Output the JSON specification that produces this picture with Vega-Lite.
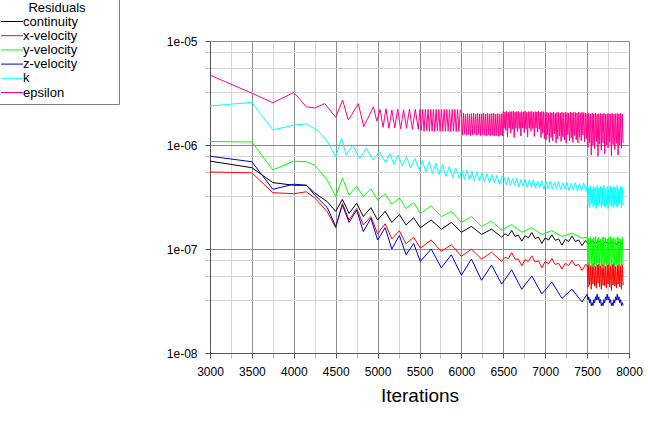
{
  "$schema": "https://vega.github.io/schema/vega-lite/v6.json",
  "width": 419,
  "height": 312,
  "autosize": {"type": "none"},
  "padding": {"left": 210, "top": 41, "right": 19, "bottom": 79},
  "background": "#ffffff",
  "config": {"view": {"stroke": null}},
  "data": {
    "values": [
      {"s": "continuity", "i": 3000, "v": 7.0e-7},
      {"s": "continuity", "i": 3500, "v": 6.05e-7},
      {"s": "continuity", "i": 3750, "v": 4.35e-7},
      {"s": "continuity", "i": 4000, "v": 4.1e-7},
      {"s": "continuity", "i": 4150, "v": 4.1e-7},
      {"s": "continuity", "i": 4250, "v": 3.45e-7},
      {"s": "continuity", "i": 4400, "v": 2.85e-7},
      {"s": "continuity", "i": 4500, "v": 2.3e-7},
      {"s": "continuity", "i": 4580, "v": 3.0e-7},
      {"s": "continuity", "i": 4660, "v": 2.2e-7},
      {"s": "continuity", "i": 4750, "v": 2.75e-7},
      {"s": "continuity", "i": 4830, "v": 2.05e-7},
      {"s": "continuity", "i": 4920, "v": 2.5e-7},
      {"s": "continuity", "i": 5000, "v": 1.9e-7},
      {"s": "continuity", "i": 5090, "v": 2.3e-7},
      {"s": "continuity", "i": 5170, "v": 1.8e-7},
      {"s": "continuity", "i": 5260, "v": 2.15e-7},
      {"s": "continuity", "i": 5340, "v": 1.7e-7},
      {"s": "continuity", "i": 5430, "v": 2.0e-7},
      {"s": "continuity", "i": 5510, "v": 1.6e-7},
      {"s": "continuity", "i": 5640, "v": 1.9e-7},
      {"s": "continuity", "i": 5760, "v": 1.55e-7},
      {"s": "continuity", "i": 5880, "v": 1.8e-7},
      {"s": "continuity", "i": 6000, "v": 1.45e-7},
      {"s": "continuity", "i": 6120, "v": 1.65e-7},
      {"s": "continuity", "i": 6240, "v": 1.38e-7},
      {"s": "continuity", "i": 6360, "v": 1.55e-7},
      {"s": "continuity", "i": 6480, "v": 1.3e-7},
      {"s": "continuity", "i": 6520, "v": 1.40e-7},
      {"s": "continuity", "i": 6560, "v": 1.34e-7},
      {"s": "continuity", "i": 6600, "v": 1.51e-7},
      {"s": "continuity", "i": 6640, "v": 1.32e-7},
      {"s": "continuity", "i": 6680, "v": 1.36e-7},
      {"s": "continuity", "i": 6720, "v": 1.19e-7},
      {"s": "continuity", "i": 6760, "v": 1.34e-7},
      {"s": "continuity", "i": 6800, "v": 1.28e-7},
      {"s": "continuity", "i": 6840, "v": 1.44e-7},
      {"s": "continuity", "i": 6880, "v": 1.26e-7},
      {"s": "continuity", "i": 6920, "v": 1.30e-7},
      {"s": "continuity", "i": 6960, "v": 1.13e-7},
      {"s": "continuity", "i": 7000, "v": 1.28e-7},
      {"s": "continuity", "i": 7040, "v": 1.22e-7},
      {"s": "continuity", "i": 7080, "v": 1.37e-7},
      {"s": "continuity", "i": 7120, "v": 1.21e-7},
      {"s": "continuity", "i": 7160, "v": 1.25e-7},
      {"s": "continuity", "i": 7200, "v": 1.09e-7},
      {"s": "continuity", "i": 7240, "v": 1.24e-7},
      {"s": "continuity", "i": 7280, "v": 1.18e-7},
      {"s": "continuity", "i": 7320, "v": 1.33e-7},
      {"s": "continuity", "i": 7360, "v": 1.18e-7},
      {"s": "continuity", "i": 7400, "v": 1.22e-7},
      {"s": "continuity", "i": 7440, "v": 1.08e-7},
      {"s": "continuity", "i": 7480, "v": 1.20e-7},
      {"s": "continuity", "i": 7520, "v": 1.12e-7},
      {"s": "continuity", "i": 7560, "v": 1.2e-7},
      {"s": "continuity", "i": 7600, "v": 1.13e-7},
      {"s": "continuity", "i": 7640, "v": 1.19e-7},
      {"s": "continuity", "i": 7680, "v": 1.1e-7},
      {"s": "continuity", "i": 7720, "v": 1.17e-7},
      {"s": "continuity", "i": 7760, "v": 1.12e-7},
      {"s": "continuity", "i": 7800, "v": 1.18e-7},
      {"s": "continuity", "i": 7840, "v": 1.09e-7},
      {"s": "continuity", "i": 7880, "v": 1.16e-7},
      {"s": "continuity", "i": 7930, "v": 1.12e-7},

      {"s": "x-velocity", "i": 3000, "v": 5.5e-7},
      {"s": "x-velocity", "i": 3500, "v": 5.4e-7},
      {"s": "x-velocity", "i": 3750, "v": 3.48e-7},
      {"s": "x-velocity", "i": 4000, "v": 3.4e-7},
      {"s": "x-velocity", "i": 4150, "v": 3.55e-7},
      {"s": "x-velocity", "i": 4250, "v": 3.1e-7},
      {"s": "x-velocity", "i": 4400, "v": 2.28e-7},
      {"s": "x-velocity", "i": 4500, "v": 1.6e-7},
      {"s": "x-velocity", "i": 4580, "v": 2.75e-7},
      {"s": "x-velocity", "i": 4660, "v": 1.9e-7},
      {"s": "x-velocity", "i": 4750, "v": 2.45e-7},
      {"s": "x-velocity", "i": 4830, "v": 1.7e-7},
      {"s": "x-velocity", "i": 4920, "v": 2.05e-7},
      {"s": "x-velocity", "i": 5000, "v": 1.4e-7},
      {"s": "x-velocity", "i": 5090, "v": 1.75e-7},
      {"s": "x-velocity", "i": 5170, "v": 1.25e-7},
      {"s": "x-velocity", "i": 5260, "v": 1.5e-7},
      {"s": "x-velocity", "i": 5340, "v": 1.12e-7},
      {"s": "x-velocity", "i": 5430, "v": 1.3e-7},
      {"s": "x-velocity", "i": 5510, "v": 1.02e-7},
      {"s": "x-velocity", "i": 5640, "v": 1.22e-7},
      {"s": "x-velocity", "i": 5760, "v": 9.5e-8},
      {"s": "x-velocity", "i": 5880, "v": 1.1e-7},
      {"s": "x-velocity", "i": 6000, "v": 8.5e-8},
      {"s": "x-velocity", "i": 6120, "v": 1.0e-7},
      {"s": "x-velocity", "i": 6240, "v": 8.0e-8},
      {"s": "x-velocity", "i": 6360, "v": 9.3e-8},
      {"s": "x-velocity", "i": 6480, "v": 7.6e-8},
      {"s": "x-velocity", "i": 6520, "v": 8.3e-8},
      {"s": "x-velocity", "i": 6560, "v": 8.1e-8},
      {"s": "x-velocity", "i": 6600, "v": 9.2e-8},
      {"s": "x-velocity", "i": 6640, "v": 8.0e-8},
      {"s": "x-velocity", "i": 6680, "v": 8.0e-8},
      {"s": "x-velocity", "i": 6720, "v": 6.9e-8},
      {"s": "x-velocity", "i": 6760, "v": 7.9e-8},
      {"s": "x-velocity", "i": 6800, "v": 7.6e-8},
      {"s": "x-velocity", "i": 6840, "v": 8.6e-8},
      {"s": "x-velocity", "i": 6880, "v": 7.5e-8},
      {"s": "x-velocity", "i": 6920, "v": 7.7e-8},
      {"s": "x-velocity", "i": 6960, "v": 6.6e-8},
      {"s": "x-velocity", "i": 7000, "v": 7.6e-8},
      {"s": "x-velocity", "i": 7040, "v": 7.2e-8},
      {"s": "x-velocity", "i": 7080, "v": 8.1e-8},
      {"s": "x-velocity", "i": 7120, "v": 7.1e-8},
      {"s": "x-velocity", "i": 7160, "v": 7.3e-8},
      {"s": "x-velocity", "i": 7200, "v": 6.4e-8},
      {"s": "x-velocity", "i": 7240, "v": 7.3e-8},
      {"s": "x-velocity", "i": 7280, "v": 6.9e-8},
      {"s": "x-velocity", "i": 7320, "v": 7.8e-8},
      {"s": "x-velocity", "i": 7360, "v": 6.9e-8},
      {"s": "x-velocity", "i": 7400, "v": 7.1e-8},
      {"s": "x-velocity", "i": 7440, "v": 6.2e-8},
      {"s": "x-velocity", "i": 7480, "v": 7.1e-8},
      {"s": "x-velocity", "i": 7500, "v": 7.0e-8},
      {"s": "x-velocity", "i": 7510, "v": 4.3e-8},
      {"s": "x-velocity", "i": 7520, "v": 7.2e-8},
      {"s": "x-velocity", "i": 7530, "v": 4.5e-8},
      {"s": "x-velocity", "i": 7540, "v": 6.9e-8},
      {"s": "x-velocity", "i": 7550, "v": 4.1e-8},
      {"s": "x-velocity", "i": 7560, "v": 7.1e-8},
      {"s": "x-velocity", "i": 7570, "v": 4.6e-8},
      {"s": "x-velocity", "i": 7580, "v": 7.3e-8},
      {"s": "x-velocity", "i": 7590, "v": 4.4e-8},
      {"s": "x-velocity", "i": 7600, "v": 6.8e-8},
      {"s": "x-velocity", "i": 7610, "v": 4.2e-8},
      {"s": "x-velocity", "i": 7620, "v": 7.0e-8},
      {"s": "x-velocity", "i": 7630, "v": 4.7e-8},
      {"s": "x-velocity", "i": 7640, "v": 7.2e-8},
      {"s": "x-velocity", "i": 7650, "v": 4.3e-8},
      {"s": "x-velocity", "i": 7660, "v": 6.9e-8},
      {"s": "x-velocity", "i": 7670, "v": 4.1e-8},
      {"s": "x-velocity", "i": 7680, "v": 7.1e-8},
      {"s": "x-velocity", "i": 7690, "v": 4.5e-8},
      {"s": "x-velocity", "i": 7700, "v": 7.3e-8},
      {"s": "x-velocity", "i": 7710, "v": 4.4e-8},
      {"s": "x-velocity", "i": 7720, "v": 6.8e-8},
      {"s": "x-velocity", "i": 7730, "v": 4.2e-8},
      {"s": "x-velocity", "i": 7740, "v": 7.0e-8},
      {"s": "x-velocity", "i": 7750, "v": 4.6e-8},
      {"s": "x-velocity", "i": 7760, "v": 7.2e-8},
      {"s": "x-velocity", "i": 7770, "v": 4.3e-8},
      {"s": "x-velocity", "i": 7780, "v": 6.9e-8},
      {"s": "x-velocity", "i": 7790, "v": 4.0e-8},
      {"s": "x-velocity", "i": 7800, "v": 7.1e-8},
      {"s": "x-velocity", "i": 7810, "v": 4.5e-8},
      {"s": "x-velocity", "i": 7820, "v": 7.3e-8},
      {"s": "x-velocity", "i": 7830, "v": 4.4e-8},
      {"s": "x-velocity", "i": 7840, "v": 6.8e-8},
      {"s": "x-velocity", "i": 7850, "v": 4.2e-8},
      {"s": "x-velocity", "i": 7860, "v": 7.0e-8},
      {"s": "x-velocity", "i": 7870, "v": 4.6e-8},
      {"s": "x-velocity", "i": 7880, "v": 7.2e-8},
      {"s": "x-velocity", "i": 7890, "v": 4.3e-8},
      {"s": "x-velocity", "i": 7900, "v": 6.9e-8},
      {"s": "x-velocity", "i": 7910, "v": 4.1e-8},
      {"s": "x-velocity", "i": 7920, "v": 7.1e-8},
      {"s": "x-velocity", "i": 7930, "v": 4.5e-8},

      {"s": "y-velocity", "i": 3000, "v": 1.08e-6},
      {"s": "y-velocity", "i": 3500, "v": 1.07e-6},
      {"s": "y-velocity", "i": 3750, "v": 5.75e-7},
      {"s": "y-velocity", "i": 4000, "v": 7.0e-7},
      {"s": "y-velocity", "i": 4150, "v": 6.9e-7},
      {"s": "y-velocity", "i": 4250, "v": 6.4e-7},
      {"s": "y-velocity", "i": 4400, "v": 4.6e-7},
      {"s": "y-velocity", "i": 4500, "v": 3.2e-7},
      {"s": "y-velocity", "i": 4580, "v": 4.8e-7},
      {"s": "y-velocity", "i": 4660, "v": 3.3e-7},
      {"s": "y-velocity", "i": 4750, "v": 4.0e-7},
      {"s": "y-velocity", "i": 4830, "v": 3.2e-7},
      {"s": "y-velocity", "i": 4920, "v": 3.8e-7},
      {"s": "y-velocity", "i": 5000, "v": 2.95e-7},
      {"s": "y-velocity", "i": 5090, "v": 3.4e-7},
      {"s": "y-velocity", "i": 5170, "v": 2.7e-7},
      {"s": "y-velocity", "i": 5260, "v": 3.1e-7},
      {"s": "y-velocity", "i": 5340, "v": 2.45e-7},
      {"s": "y-velocity", "i": 5430, "v": 2.8e-7},
      {"s": "y-velocity", "i": 5510, "v": 2.2e-7},
      {"s": "y-velocity", "i": 5640, "v": 2.6e-7},
      {"s": "y-velocity", "i": 5760, "v": 2.05e-7},
      {"s": "y-velocity", "i": 5880, "v": 2.3e-7},
      {"s": "y-velocity", "i": 6000, "v": 1.8e-7},
      {"s": "y-velocity", "i": 6120, "v": 2.05e-7},
      {"s": "y-velocity", "i": 6240, "v": 1.65e-7},
      {"s": "y-velocity", "i": 6360, "v": 1.85e-7},
      {"s": "y-velocity", "i": 6480, "v": 1.52e-7},
      {"s": "y-velocity", "i": 6600, "v": 1.72e-7},
      {"s": "y-velocity", "i": 6720, "v": 1.45e-7},
      {"s": "y-velocity", "i": 6840, "v": 1.6e-7},
      {"s": "y-velocity", "i": 6960, "v": 1.38e-7},
      {"s": "y-velocity", "i": 7080, "v": 1.5e-7},
      {"s": "y-velocity", "i": 7200, "v": 1.32e-7},
      {"s": "y-velocity", "i": 7320, "v": 1.42e-7},
      {"s": "y-velocity", "i": 7440, "v": 1.27e-7},
      {"s": "y-velocity", "i": 7500, "v": 1.3e-7},
      {"s": "y-velocity", "i": 7510, "v": 7.0e-8},
      {"s": "y-velocity", "i": 7520, "v": 1.27e-7},
      {"s": "y-velocity", "i": 7530, "v": 6.8e-8},
      {"s": "y-velocity", "i": 7540, "v": 1.31e-7},
      {"s": "y-velocity", "i": 7550, "v": 7.2e-8},
      {"s": "y-velocity", "i": 7560, "v": 1.25e-7},
      {"s": "y-velocity", "i": 7570, "v": 6.7e-8},
      {"s": "y-velocity", "i": 7580, "v": 1.29e-7},
      {"s": "y-velocity", "i": 7590, "v": 7.1e-8},
      {"s": "y-velocity", "i": 7600, "v": 1.32e-7},
      {"s": "y-velocity", "i": 7610, "v": 6.9e-8},
      {"s": "y-velocity", "i": 7620, "v": 1.26e-7},
      {"s": "y-velocity", "i": 7630, "v": 7.3e-8},
      {"s": "y-velocity", "i": 7640, "v": 1.3e-7},
      {"s": "y-velocity", "i": 7650, "v": 6.8e-8},
      {"s": "y-velocity", "i": 7660, "v": 1.24e-7},
      {"s": "y-velocity", "i": 7670, "v": 7.0e-8},
      {"s": "y-velocity", "i": 7680, "v": 1.29e-7},
      {"s": "y-velocity", "i": 7690, "v": 6.6e-8},
      {"s": "y-velocity", "i": 7700, "v": 1.31e-7},
      {"s": "y-velocity", "i": 7710, "v": 7.2e-8},
      {"s": "y-velocity", "i": 7720, "v": 1.27e-7},
      {"s": "y-velocity", "i": 7730, "v": 6.9e-8},
      {"s": "y-velocity", "i": 7740, "v": 1.25e-7},
      {"s": "y-velocity", "i": 7750, "v": 7.1e-8},
      {"s": "y-velocity", "i": 7760, "v": 1.3e-7},
      {"s": "y-velocity", "i": 7770, "v": 6.7e-8},
      {"s": "y-velocity", "i": 7780, "v": 1.32e-7},
      {"s": "y-velocity", "i": 7790, "v": 7.0e-8},
      {"s": "y-velocity", "i": 7800, "v": 1.26e-7},
      {"s": "y-velocity", "i": 7810, "v": 7.3e-8},
      {"s": "y-velocity", "i": 7820, "v": 1.29e-7},
      {"s": "y-velocity", "i": 7830, "v": 6.8e-8},
      {"s": "y-velocity", "i": 7840, "v": 1.24e-7},
      {"s": "y-velocity", "i": 7850, "v": 7.1e-8},
      {"s": "y-velocity", "i": 7860, "v": 1.3e-7},
      {"s": "y-velocity", "i": 7870, "v": 6.9e-8},
      {"s": "y-velocity", "i": 7880, "v": 1.28e-7},
      {"s": "y-velocity", "i": 7890, "v": 7.2e-8},
      {"s": "y-velocity", "i": 7900, "v": 1.25e-7},
      {"s": "y-velocity", "i": 7910, "v": 6.7e-8},
      {"s": "y-velocity", "i": 7920, "v": 1.31e-7},
      {"s": "y-velocity", "i": 7930, "v": 7.0e-8},

      {"s": "z-velocity", "i": 3000, "v": 7.8e-7},
      {"s": "z-velocity", "i": 3500, "v": 6.9e-7},
      {"s": "z-velocity", "i": 3750, "v": 3.75e-7},
      {"s": "z-velocity", "i": 4000, "v": 4.2e-7},
      {"s": "z-velocity", "i": 4150, "v": 4.1e-7},
      {"s": "z-velocity", "i": 4250, "v": 3.3e-7},
      {"s": "z-velocity", "i": 4400, "v": 2.5e-7},
      {"s": "z-velocity", "i": 4500, "v": 1.65e-7},
      {"s": "z-velocity", "i": 4580, "v": 2.65e-7},
      {"s": "z-velocity", "i": 4660, "v": 1.8e-7},
      {"s": "z-velocity", "i": 4750, "v": 2.37e-7},
      {"s": "z-velocity", "i": 4830, "v": 1.47e-7},
      {"s": "z-velocity", "i": 4920, "v": 1.98e-7},
      {"s": "z-velocity", "i": 5000, "v": 1.22e-7},
      {"s": "z-velocity", "i": 5090, "v": 1.6e-7},
      {"s": "z-velocity", "i": 5170, "v": 1.0e-7},
      {"s": "z-velocity", "i": 5260, "v": 1.35e-7},
      {"s": "z-velocity", "i": 5340, "v": 8.8e-8},
      {"s": "z-velocity", "i": 5430, "v": 1.13e-7},
      {"s": "z-velocity", "i": 5510, "v": 7.6e-8},
      {"s": "z-velocity", "i": 5640, "v": 1.0e-7},
      {"s": "z-velocity", "i": 5760, "v": 6.6e-8},
      {"s": "z-velocity", "i": 5880, "v": 8.8e-8},
      {"s": "z-velocity", "i": 6000, "v": 5.6e-8},
      {"s": "z-velocity", "i": 6120, "v": 8.0e-8},
      {"s": "z-velocity", "i": 6240, "v": 5.0e-8},
      {"s": "z-velocity", "i": 6360, "v": 7.0e-8},
      {"s": "z-velocity", "i": 6480, "v": 4.6e-8},
      {"s": "z-velocity", "i": 6600, "v": 6.3e-8},
      {"s": "z-velocity", "i": 6720, "v": 4.1e-8},
      {"s": "z-velocity", "i": 6840, "v": 5.5e-8},
      {"s": "z-velocity", "i": 6960, "v": 3.7e-8},
      {"s": "z-velocity", "i": 7080, "v": 4.8e-8},
      {"s": "z-velocity", "i": 7200, "v": 3.35e-8},
      {"s": "z-velocity", "i": 7320, "v": 4.1e-8},
      {"s": "z-velocity", "i": 7440, "v": 3.1e-8},
      {"s": "z-velocity", "i": 7500, "v": 3.68e-8},
      {"s": "z-velocity", "i": 7510, "v": 3.23e-8},
      {"s": "z-velocity", "i": 7520, "v": 3.47e-8},
      {"s": "z-velocity", "i": 7530, "v": 3.04e-8},
      {"s": "z-velocity", "i": 7540, "v": 3.26e-8},
      {"s": "z-velocity", "i": 7550, "v": 2.85e-8},
      {"s": "z-velocity", "i": 7560, "v": 3.05e-8},
      {"s": "z-velocity", "i": 7570, "v": 2.85e-8},
      {"s": "z-velocity", "i": 7580, "v": 3.26e-8},
      {"s": "z-velocity", "i": 7590, "v": 3.04e-8},
      {"s": "z-velocity", "i": 7600, "v": 3.47e-8},
      {"s": "z-velocity", "i": 7610, "v": 3.23e-8},
      {"s": "z-velocity", "i": 7620, "v": 3.68e-8},
      {"s": "z-velocity", "i": 7630, "v": 3.23e-8},
      {"s": "z-velocity", "i": 7640, "v": 3.47e-8},
      {"s": "z-velocity", "i": 7650, "v": 3.04e-8},
      {"s": "z-velocity", "i": 7660, "v": 3.26e-8},
      {"s": "z-velocity", "i": 7670, "v": 2.85e-8},
      {"s": "z-velocity", "i": 7680, "v": 3.05e-8},
      {"s": "z-velocity", "i": 7690, "v": 2.85e-8},
      {"s": "z-velocity", "i": 7700, "v": 3.26e-8},
      {"s": "z-velocity", "i": 7710, "v": 3.04e-8},
      {"s": "z-velocity", "i": 7720, "v": 3.47e-8},
      {"s": "z-velocity", "i": 7730, "v": 3.23e-8},
      {"s": "z-velocity", "i": 7740, "v": 3.68e-8},
      {"s": "z-velocity", "i": 7750, "v": 3.23e-8},
      {"s": "z-velocity", "i": 7760, "v": 3.47e-8},
      {"s": "z-velocity", "i": 7770, "v": 3.04e-8},
      {"s": "z-velocity", "i": 7780, "v": 3.26e-8},
      {"s": "z-velocity", "i": 7790, "v": 2.85e-8},
      {"s": "z-velocity", "i": 7800, "v": 3.05e-8},
      {"s": "z-velocity", "i": 7810, "v": 2.85e-8},
      {"s": "z-velocity", "i": 7820, "v": 3.26e-8},
      {"s": "z-velocity", "i": 7830, "v": 3.04e-8},
      {"s": "z-velocity", "i": 7840, "v": 3.47e-8},
      {"s": "z-velocity", "i": 7850, "v": 3.23e-8},
      {"s": "z-velocity", "i": 7860, "v": 3.68e-8},
      {"s": "z-velocity", "i": 7870, "v": 3.23e-8},
      {"s": "z-velocity", "i": 7880, "v": 3.47e-8},
      {"s": "z-velocity", "i": 7890, "v": 3.04e-8},
      {"s": "z-velocity", "i": 7900, "v": 3.26e-8},
      {"s": "z-velocity", "i": 7910, "v": 2.85e-8},
      {"s": "z-velocity", "i": 7920, "v": 3.05e-8},
      {"s": "z-velocity", "i": 7930, "v": 2.85e-8},

      {"s": "k", "i": 3000, "v": 2.37e-6},
      {"s": "k", "i": 3500, "v": 2.57e-6},
      {"s": "k", "i": 3750, "v": 1.4e-6},
      {"s": "k", "i": 4000, "v": 1.55e-6},
      {"s": "k", "i": 4150, "v": 1.6e-6},
      {"s": "k", "i": 4300, "v": 1.35e-6},
      {"s": "k", "i": 4400, "v": 1.08e-6},
      {"s": "k", "i": 4500, "v": 7.7e-7},
      {"s": "k", "i": 4570, "v": 1.16e-6},
      {"s": "k", "i": 4625, "v": 8.0e-7},
      {"s": "k", "i": 4705, "v": 1.0e-6},
      {"s": "k", "i": 4785, "v": 7.4e-7},
      {"s": "k", "i": 4865, "v": 9.3e-7},
      {"s": "k", "i": 4945, "v": 7.2e-7},
      {"s": "k", "i": 5025, "v": 8.6e-7},
      {"s": "k", "i": 5095, "v": 6.8e-7},
      {"s": "k", "i": 5145, "v": 8.3e-7},
      {"s": "k", "i": 5195, "v": 6.5e-7},
      {"s": "k", "i": 5245, "v": 8.0e-7},
      {"s": "k", "i": 5295, "v": 6.3e-7},
      {"s": "k", "i": 5345, "v": 7.7e-7},
      {"s": "k", "i": 5395, "v": 6.0e-7},
      {"s": "k", "i": 5445, "v": 7.4e-7},
      {"s": "k", "i": 5495, "v": 5.8e-7},
      {"s": "k", "i": 5535, "v": 7.1e-7},
      {"s": "k", "i": 5575, "v": 5.5e-7},
      {"s": "k", "i": 5615, "v": 6.9e-7},
      {"s": "k", "i": 5655, "v": 5.3e-7},
      {"s": "k", "i": 5695, "v": 6.7e-7},
      {"s": "k", "i": 5735, "v": 5.2e-7},
      {"s": "k", "i": 5775, "v": 6.5e-7},
      {"s": "k", "i": 5815, "v": 5.0e-7},
      {"s": "k", "i": 5855, "v": 6.2e-7},
      {"s": "k", "i": 5895, "v": 4.9e-7},
      {"s": "k", "i": 5935, "v": 6.0e-7},
      {"s": "k", "i": 5975, "v": 4.75e-7},
      {"s": "k", "i": 6005, "v": 5.8e-7},
      {"s": "k", "i": 6035, "v": 4.7e-7},
      {"s": "k", "i": 6065, "v": 5.7e-7},
      {"s": "k", "i": 6095, "v": 4.6e-7},
      {"s": "k", "i": 6125, "v": 5.6e-7},
      {"s": "k", "i": 6155, "v": 4.55e-7},
      {"s": "k", "i": 6185, "v": 5.5e-7},
      {"s": "k", "i": 6215, "v": 4.5e-7},
      {"s": "k", "i": 6245, "v": 5.4e-7},
      {"s": "k", "i": 6275, "v": 4.4e-7},
      {"s": "k", "i": 6305, "v": 5.3e-7},
      {"s": "k", "i": 6335, "v": 4.35e-7},
      {"s": "k", "i": 6365, "v": 5.2e-7},
      {"s": "k", "i": 6395, "v": 4.3e-7},
      {"s": "k", "i": 6425, "v": 5.1e-7},
      {"s": "k", "i": 6455, "v": 4.2e-7},
      {"s": "k", "i": 6485, "v": 5.0e-7},
      {"s": "k", "i": 6510, "v": 4.85e-7},
      {"s": "k", "i": 6535, "v": 4.15e-7},
      {"s": "k", "i": 6560, "v": 4.9e-7},
      {"s": "k", "i": 6585, "v": 4.05e-7},
      {"s": "k", "i": 6610, "v": 4.75e-7},
      {"s": "k", "i": 6635, "v": 4.1e-7},
      {"s": "k", "i": 6660, "v": 4.8e-7},
      {"s": "k", "i": 6685, "v": 3.95e-7},
      {"s": "k", "i": 6710, "v": 4.65e-7},
      {"s": "k", "i": 6735, "v": 4.0e-7},
      {"s": "k", "i": 6760, "v": 4.7e-7},
      {"s": "k", "i": 6785, "v": 3.9e-7},
      {"s": "k", "i": 6810, "v": 4.6e-7},
      {"s": "k", "i": 6835, "v": 3.95e-7},
      {"s": "k", "i": 6860, "v": 4.65e-7},
      {"s": "k", "i": 6885, "v": 3.85e-7},
      {"s": "k", "i": 6910, "v": 4.5e-7},
      {"s": "k", "i": 6935, "v": 3.9e-7},
      {"s": "k", "i": 6960, "v": 4.55e-7},
      {"s": "k", "i": 6985, "v": 3.75e-7},
      {"s": "k", "i": 7010, "v": 4.45e-7},
      {"s": "k", "i": 7035, "v": 3.8e-7},
      {"s": "k", "i": 7060, "v": 4.5e-7},
      {"s": "k", "i": 7085, "v": 3.75e-7},
      {"s": "k", "i": 7110, "v": 4.4e-7},
      {"s": "k", "i": 7135, "v": 3.8e-7},
      {"s": "k", "i": 7160, "v": 4.45e-7},
      {"s": "k", "i": 7185, "v": 3.7e-7},
      {"s": "k", "i": 7210, "v": 4.35e-7},
      {"s": "k", "i": 7235, "v": 3.75e-7},
      {"s": "k", "i": 7260, "v": 4.4e-7},
      {"s": "k", "i": 7285, "v": 3.65e-7},
      {"s": "k", "i": 7310, "v": 4.3e-7},
      {"s": "k", "i": 7335, "v": 3.7e-7},
      {"s": "k", "i": 7360, "v": 4.35e-7},
      {"s": "k", "i": 7385, "v": 3.6e-7},
      {"s": "k", "i": 7410, "v": 4.25e-7},
      {"s": "k", "i": 7435, "v": 3.65e-7},
      {"s": "k", "i": 7460, "v": 4.3e-7},
      {"s": "k", "i": 7485, "v": 3.6e-7},
      {"s": "k", "i": 7500, "v": 4.0e-7},
      {"s": "k", "i": 7510, "v": 2.6e-7},
      {"s": "k", "i": 7520, "v": 3.9e-7},
      {"s": "k", "i": 7530, "v": 2.5e-7},
      {"s": "k", "i": 7540, "v": 4.1e-7},
      {"s": "k", "i": 7550, "v": 2.7e-7},
      {"s": "k", "i": 7560, "v": 3.8e-7},
      {"s": "k", "i": 7570, "v": 2.55e-7},
      {"s": "k", "i": 7580, "v": 4.0e-7},
      {"s": "k", "i": 7590, "v": 2.65e-7},
      {"s": "k", "i": 7600, "v": 3.9e-7},
      {"s": "k", "i": 7610, "v": 2.45e-7},
      {"s": "k", "i": 7620, "v": 4.05e-7},
      {"s": "k", "i": 7630, "v": 2.6e-7},
      {"s": "k", "i": 7640, "v": 3.85e-7},
      {"s": "k", "i": 7650, "v": 2.7e-7},
      {"s": "k", "i": 7660, "v": 4.0e-7},
      {"s": "k", "i": 7670, "v": 2.5e-7},
      {"s": "k", "i": 7680, "v": 3.9e-7},
      {"s": "k", "i": 7690, "v": 2.65e-7},
      {"s": "k", "i": 7700, "v": 4.1e-7},
      {"s": "k", "i": 7710, "v": 2.55e-7},
      {"s": "k", "i": 7720, "v": 3.8e-7},
      {"s": "k", "i": 7730, "v": 2.6e-7},
      {"s": "k", "i": 7740, "v": 4.0e-7},
      {"s": "k", "i": 7750, "v": 2.45e-7},
      {"s": "k", "i": 7760, "v": 3.9e-7},
      {"s": "k", "i": 7770, "v": 2.7e-7},
      {"s": "k", "i": 7780, "v": 4.05e-7},
      {"s": "k", "i": 7790, "v": 2.6e-7},
      {"s": "k", "i": 7800, "v": 3.85e-7},
      {"s": "k", "i": 7810, "v": 2.5e-7},
      {"s": "k", "i": 7820, "v": 4.0e-7},
      {"s": "k", "i": 7830, "v": 2.65e-7},
      {"s": "k", "i": 7840, "v": 3.9e-7},
      {"s": "k", "i": 7850, "v": 2.55e-7},
      {"s": "k", "i": 7860, "v": 4.1e-7},
      {"s": "k", "i": 7870, "v": 2.6e-7},
      {"s": "k", "i": 7880, "v": 3.8e-7},
      {"s": "k", "i": 7890, "v": 2.7e-7},
      {"s": "k", "i": 7900, "v": 4.0e-7},
      {"s": "k", "i": 7910, "v": 2.5e-7},
      {"s": "k", "i": 7920, "v": 3.9e-7},
      {"s": "k", "i": 7930, "v": 2.6e-7},

      {"s": "epsilon", "i": 3000, "v": 4.7e-6},
      {"s": "epsilon", "i": 3500, "v": 3.15e-6},
      {"s": "epsilon", "i": 3750, "v": 2.55e-6},
      {"s": "epsilon", "i": 4000, "v": 3.2e-6},
      {"s": "epsilon", "i": 4150, "v": 2.33e-6},
      {"s": "epsilon", "i": 4250, "v": 2.27e-6},
      {"s": "epsilon", "i": 4370, "v": 2.5e-6},
      {"s": "epsilon", "i": 4500, "v": 1.85e-6},
      {"s": "epsilon", "i": 4583, "v": 2.7e-6},
      {"s": "epsilon", "i": 4650, "v": 1.74e-6},
      {"s": "epsilon", "i": 4690, "v": 1.95e-6},
      {"s": "epsilon", "i": 4770, "v": 2.5e-6},
      {"s": "epsilon", "i": 4835, "v": 1.5e-6},
      {"s": "epsilon", "i": 4950, "v": 2.33e-6},
      {"s": "epsilon", "i": 4990, "v": 1.7e-6},
      {"s": "epsilon", "i": 5030, "v": 2.2e-6},
      {"s": "epsilon", "i": 5065, "v": 1.48e-6},
      {"s": "epsilon", "i": 5100, "v": 2.23e-6},
      {"s": "epsilon", "i": 5135, "v": 1.45e-6},
      {"s": "epsilon", "i": 5170, "v": 2.17e-6},
      {"s": "epsilon", "i": 5205, "v": 1.46e-6},
      {"s": "epsilon", "i": 5240, "v": 2.22e-6},
      {"s": "epsilon", "i": 5275, "v": 1.43e-6},
      {"s": "epsilon", "i": 5310, "v": 2.18e-6},
      {"s": "epsilon", "i": 5345, "v": 1.45e-6},
      {"s": "epsilon", "i": 5380, "v": 2.21e-6},
      {"s": "epsilon", "i": 5415, "v": 1.42e-6},
      {"s": "epsilon", "i": 5450, "v": 2.2e-6},
      {"s": "epsilon", "i": 5485, "v": 1.42e-6},
      {"s": "epsilon", "i": 5506, "v": 2.2e-6},
      {"s": "epsilon", "i": 5522, "v": 1.38e-6},
      {"s": "epsilon", "i": 5538, "v": 2.2e-6},
      {"s": "epsilon", "i": 5554, "v": 1.35e-6},
      {"s": "epsilon", "i": 5570, "v": 2.2e-6},
      {"s": "epsilon", "i": 5586, "v": 1.38e-6},
      {"s": "epsilon", "i": 5602, "v": 2.2e-6},
      {"s": "epsilon", "i": 5618, "v": 1.35e-6},
      {"s": "epsilon", "i": 5634, "v": 2.2e-6},
      {"s": "epsilon", "i": 5650, "v": 1.36e-6},
      {"s": "epsilon", "i": 5666, "v": 2.2e-6},
      {"s": "epsilon", "i": 5682, "v": 1.35e-6},
      {"s": "epsilon", "i": 5698, "v": 2.2e-6},
      {"s": "epsilon", "i": 5714, "v": 1.37e-6},
      {"s": "epsilon", "i": 5730, "v": 2.2e-6},
      {"s": "epsilon", "i": 5746, "v": 1.35e-6},
      {"s": "epsilon", "i": 5762, "v": 2.2e-6},
      {"s": "epsilon", "i": 5778, "v": 1.36e-6},
      {"s": "epsilon", "i": 5794, "v": 2.2e-6},
      {"s": "epsilon", "i": 5810, "v": 1.35e-6},
      {"s": "epsilon", "i": 5826, "v": 2.2e-6},
      {"s": "epsilon", "i": 5842, "v": 1.36e-6},
      {"s": "epsilon", "i": 5858, "v": 2.2e-6},
      {"s": "epsilon", "i": 5874, "v": 1.34e-6},
      {"s": "epsilon", "i": 5890, "v": 2.2e-6},
      {"s": "epsilon", "i": 5906, "v": 1.36e-6},
      {"s": "epsilon", "i": 5922, "v": 2.2e-6},
      {"s": "epsilon", "i": 5938, "v": 1.34e-6},
      {"s": "epsilon", "i": 5954, "v": 2.2e-6},
      {"s": "epsilon", "i": 5970, "v": 1.35e-6},
      {"s": "epsilon", "i": 5986, "v": 2.18e-6},
      {"s": "epsilon", "i": 6002, "v": 2.0e-6},
      {"s": "epsilon", "i": 6014, "v": 1.25e-6},
      {"s": "epsilon", "i": 6026, "v": 2.02e-6},
      {"s": "epsilon", "i": 6038, "v": 1.27e-6},
      {"s": "epsilon", "i": 6050, "v": 1.98e-6},
      {"s": "epsilon", "i": 6062, "v": 1.24e-6},
      {"s": "epsilon", "i": 6074, "v": 2.01e-6},
      {"s": "epsilon", "i": 6086, "v": 1.26e-6},
      {"s": "epsilon", "i": 6098, "v": 1.99e-6},
      {"s": "epsilon", "i": 6110, "v": 1.23e-6},
      {"s": "epsilon", "i": 6122, "v": 2.0e-6},
      {"s": "epsilon", "i": 6134, "v": 1.25e-6},
      {"s": "epsilon", "i": 6146, "v": 2.02e-6},
      {"s": "epsilon", "i": 6158, "v": 1.27e-6},
      {"s": "epsilon", "i": 6170, "v": 1.98e-6},
      {"s": "epsilon", "i": 6182, "v": 1.24e-6},
      {"s": "epsilon", "i": 6194, "v": 2.01e-6},
      {"s": "epsilon", "i": 6206, "v": 1.26e-6},
      {"s": "epsilon", "i": 6218, "v": 1.99e-6},
      {"s": "epsilon", "i": 6230, "v": 1.23e-6},
      {"s": "epsilon", "i": 6242, "v": 2.0e-6},
      {"s": "epsilon", "i": 6254, "v": 1.25e-6},
      {"s": "epsilon", "i": 6266, "v": 2.02e-6},
      {"s": "epsilon", "i": 6278, "v": 1.24e-6},
      {"s": "epsilon", "i": 6290, "v": 1.98e-6},
      {"s": "epsilon", "i": 6302, "v": 1.22e-6},
      {"s": "epsilon", "i": 6314, "v": 2.01e-6},
      {"s": "epsilon", "i": 6326, "v": 1.25e-6},
      {"s": "epsilon", "i": 6338, "v": 1.99e-6},
      {"s": "epsilon", "i": 6350, "v": 1.23e-6},
      {"s": "epsilon", "i": 6362, "v": 2.0e-6},
      {"s": "epsilon", "i": 6374, "v": 1.24e-6},
      {"s": "epsilon", "i": 6386, "v": 2.02e-6},
      {"s": "epsilon", "i": 6398, "v": 1.22e-6},
      {"s": "epsilon", "i": 6410, "v": 1.98e-6},
      {"s": "epsilon", "i": 6422, "v": 1.23e-6},
      {"s": "epsilon", "i": 6434, "v": 2.01e-6},
      {"s": "epsilon", "i": 6446, "v": 1.21e-6},
      {"s": "epsilon", "i": 6458, "v": 1.99e-6},
      {"s": "epsilon", "i": 6470, "v": 1.24e-6},
      {"s": "epsilon", "i": 6482, "v": 2.0e-6},
      {"s": "epsilon", "i": 6494, "v": 1.22e-6},
      {"s": "epsilon", "i": 6500, "v": 2.1e-6},
      {"s": "epsilon", "i": 6510, "v": 1.45e-6},
      {"s": "epsilon", "i": 6520, "v": 2.08e-6},
      {"s": "epsilon", "i": 6530, "v": 1.38e-6},
      {"s": "epsilon", "i": 6540, "v": 2.12e-6},
      {"s": "epsilon", "i": 6550, "v": 1.2e-6},
      {"s": "epsilon", "i": 6560, "v": 2.06e-6},
      {"s": "epsilon", "i": 6570, "v": 1.45e-6},
      {"s": "epsilon", "i": 6580, "v": 2.1e-6},
      {"s": "epsilon", "i": 6590, "v": 1.3e-6},
      {"s": "epsilon", "i": 6600, "v": 2.09e-6},
      {"s": "epsilon", "i": 6610, "v": 1.42e-6},
      {"s": "epsilon", "i": 6620, "v": 2.12e-6},
      {"s": "epsilon", "i": 6630, "v": 1.18e-6},
      {"s": "epsilon", "i": 6640, "v": 2.07e-6},
      {"s": "epsilon", "i": 6650, "v": 1.45e-6},
      {"s": "epsilon", "i": 6660, "v": 2.1e-6},
      {"s": "epsilon", "i": 6670, "v": 1.35e-6},
      {"s": "epsilon", "i": 6680, "v": 2.11e-6},
      {"s": "epsilon", "i": 6690, "v": 1.44e-6},
      {"s": "epsilon", "i": 6700, "v": 2.06e-6},
      {"s": "epsilon", "i": 6710, "v": 1.22e-6},
      {"s": "epsilon", "i": 6720, "v": 2.1e-6},
      {"s": "epsilon", "i": 6730, "v": 1.46e-6},
      {"s": "epsilon", "i": 6740, "v": 2.08e-6},
      {"s": "epsilon", "i": 6750, "v": 1.32e-6},
      {"s": "epsilon", "i": 6760, "v": 2.12e-6},
      {"s": "epsilon", "i": 6770, "v": 1.43e-6},
      {"s": "epsilon", "i": 6780, "v": 2.07e-6},
      {"s": "epsilon", "i": 6790, "v": 1.19e-6},
      {"s": "epsilon", "i": 6800, "v": 2.1e-6},
      {"s": "epsilon", "i": 6810, "v": 1.45e-6},
      {"s": "epsilon", "i": 6820, "v": 2.09e-6},
      {"s": "epsilon", "i": 6830, "v": 1.36e-6},
      {"s": "epsilon", "i": 6840, "v": 2.11e-6},
      {"s": "epsilon", "i": 6850, "v": 1.44e-6},
      {"s": "epsilon", "i": 6860, "v": 2.06e-6},
      {"s": "epsilon", "i": 6870, "v": 1.21e-6},
      {"s": "epsilon", "i": 6880, "v": 2.1e-6},
      {"s": "epsilon", "i": 6890, "v": 1.45e-6},
      {"s": "epsilon", "i": 6900, "v": 2.08e-6},
      {"s": "epsilon", "i": 6910, "v": 1.33e-6},
      {"s": "epsilon", "i": 6920, "v": 2.12e-6},
      {"s": "epsilon", "i": 6930, "v": 1.42e-6},
      {"s": "epsilon", "i": 6940, "v": 2.07e-6},
      {"s": "epsilon", "i": 6950, "v": 1.18e-6},
      {"s": "epsilon", "i": 6960, "v": 2.1e-6},
      {"s": "epsilon", "i": 6970, "v": 1.3e-6},
      {"s": "epsilon", "i": 6980, "v": 2.09e-6},
      {"s": "epsilon", "i": 6990, "v": 1.15e-6},
      {"s": "epsilon", "i": 7000, "v": 2.05e-6},
      {"s": "epsilon", "i": 7010, "v": 1.12e-6},
      {"s": "epsilon", "i": 7020, "v": 2.07e-6},
      {"s": "epsilon", "i": 7030, "v": 1.25e-6},
      {"s": "epsilon", "i": 7040, "v": 2.03e-6},
      {"s": "epsilon", "i": 7050, "v": 1.06e-6},
      {"s": "epsilon", "i": 7060, "v": 2.06e-6},
      {"s": "epsilon", "i": 7070, "v": 1.18e-6},
      {"s": "epsilon", "i": 7080, "v": 2.04e-6},
      {"s": "epsilon", "i": 7090, "v": 1.1e-6},
      {"s": "epsilon", "i": 7100, "v": 2.07e-6},
      {"s": "epsilon", "i": 7110, "v": 1.28e-6},
      {"s": "epsilon", "i": 7120, "v": 2.02e-6},
      {"s": "epsilon", "i": 7130, "v": 1.05e-6},
      {"s": "epsilon", "i": 7140, "v": 2.06e-6},
      {"s": "epsilon", "i": 7150, "v": 1.15e-6},
      {"s": "epsilon", "i": 7160, "v": 2.05e-6},
      {"s": "epsilon", "i": 7170, "v": 1.22e-6},
      {"s": "epsilon", "i": 7180, "v": 2.03e-6},
      {"s": "epsilon", "i": 7190, "v": 1.08e-6},
      {"s": "epsilon", "i": 7200, "v": 2.07e-6},
      {"s": "epsilon", "i": 7210, "v": 1.2e-6},
      {"s": "epsilon", "i": 7220, "v": 2.04e-6},
      {"s": "epsilon", "i": 7230, "v": 1.12e-6},
      {"s": "epsilon", "i": 7240, "v": 2.06e-6},
      {"s": "epsilon", "i": 7250, "v": 1.04e-6},
      {"s": "epsilon", "i": 7260, "v": 2.05e-6},
      {"s": "epsilon", "i": 7270, "v": 1.26e-6},
      {"s": "epsilon", "i": 7280, "v": 2.03e-6},
      {"s": "epsilon", "i": 7290, "v": 1.1e-6},
      {"s": "epsilon", "i": 7300, "v": 2.07e-6},
      {"s": "epsilon", "i": 7310, "v": 1.17e-6},
      {"s": "epsilon", "i": 7320, "v": 2.04e-6},
      {"s": "epsilon", "i": 7330, "v": 1.06e-6},
      {"s": "epsilon", "i": 7340, "v": 2.06e-6},
      {"s": "epsilon", "i": 7350, "v": 1.23e-6},
      {"s": "epsilon", "i": 7360, "v": 2.05e-6},
      {"s": "epsilon", "i": 7370, "v": 1.12e-6},
      {"s": "epsilon", "i": 7380, "v": 2.03e-6},
      {"s": "epsilon", "i": 7390, "v": 1.05e-6},
      {"s": "epsilon", "i": 7400, "v": 2.07e-6},
      {"s": "epsilon", "i": 7410, "v": 1.19e-6},
      {"s": "epsilon", "i": 7420, "v": 2.04e-6},
      {"s": "epsilon", "i": 7430, "v": 1.1e-6},
      {"s": "epsilon", "i": 7440, "v": 2.06e-6},
      {"s": "epsilon", "i": 7450, "v": 1.25e-6},
      {"s": "epsilon", "i": 7460, "v": 2.05e-6},
      {"s": "epsilon", "i": 7470, "v": 1.07e-6},
      {"s": "epsilon", "i": 7480, "v": 2.03e-6},
      {"s": "epsilon", "i": 7490, "v": 1.15e-6},
      {"s": "epsilon", "i": 7500, "v": 2.0e-6},
      {"s": "epsilon", "i": 7510, "v": 9.5e-7},
      {"s": "epsilon", "i": 7520, "v": 2.02e-6},
      {"s": "epsilon", "i": 7530, "v": 1.05e-6},
      {"s": "epsilon", "i": 7540, "v": 1.98e-6},
      {"s": "epsilon", "i": 7550, "v": 8.0e-7},
      {"s": "epsilon", "i": 7560, "v": 2.01e-6},
      {"s": "epsilon", "i": 7570, "v": 1.0e-6},
      {"s": "epsilon", "i": 7580, "v": 1.99e-6},
      {"s": "epsilon", "i": 7590, "v": 9.2e-7},
      {"s": "epsilon", "i": 7600, "v": 2.02e-6},
      {"s": "epsilon", "i": 7610, "v": 1.08e-6},
      {"s": "epsilon", "i": 7620, "v": 1.98e-6},
      {"s": "epsilon", "i": 7630, "v": 7.8e-7},
      {"s": "epsilon", "i": 7640, "v": 2.0e-6},
      {"s": "epsilon", "i": 7650, "v": 1.02e-6},
      {"s": "epsilon", "i": 7660, "v": 2.01e-6},
      {"s": "epsilon", "i": 7670, "v": 9.0e-7},
      {"s": "epsilon", "i": 7680, "v": 1.99e-6},
      {"s": "epsilon", "i": 7690, "v": 1.05e-6},
      {"s": "epsilon", "i": 7700, "v": 2.02e-6},
      {"s": "epsilon", "i": 7710, "v": 8.2e-7},
      {"s": "epsilon", "i": 7720, "v": 1.98e-6},
      {"s": "epsilon", "i": 7730, "v": 1.0e-6},
      {"s": "epsilon", "i": 7740, "v": 2.0e-6},
      {"s": "epsilon", "i": 7750, "v": 9.4e-7},
      {"s": "epsilon", "i": 7760, "v": 2.01e-6},
      {"s": "epsilon", "i": 7770, "v": 1.06e-6},
      {"s": "epsilon", "i": 7780, "v": 1.99e-6},
      {"s": "epsilon", "i": 7790, "v": 7.9e-7},
      {"s": "epsilon", "i": 7800, "v": 2.02e-6},
      {"s": "epsilon", "i": 7810, "v": 1.01e-6},
      {"s": "epsilon", "i": 7820, "v": 1.98e-6},
      {"s": "epsilon", "i": 7830, "v": 9.0e-7},
      {"s": "epsilon", "i": 7840, "v": 2.0e-6},
      {"s": "epsilon", "i": 7850, "v": 1.04e-6},
      {"s": "epsilon", "i": 7860, "v": 2.01e-6},
      {"s": "epsilon", "i": 7870, "v": 8.0e-7},
      {"s": "epsilon", "i": 7880, "v": 1.99e-6},
      {"s": "epsilon", "i": 7890, "v": 1.0e-6},
      {"s": "epsilon", "i": 7900, "v": 2.02e-6},
      {"s": "epsilon", "i": 7910, "v": 9.3e-7},
      {"s": "epsilon", "i": 7920, "v": 1.98e-6},
      {"s": "epsilon", "i": 7930, "v": 1.05e-6}
    ]
  },
  "mark": {"type": "line", "strokeWidth": 1, "clip": true},
  "encoding": {
    "x": {
      "field": "i",
      "type": "quantitative",
      "scale": {"domain": [3000, 8000], "nice": false, "zero": false},
      "axis": {
        "title": "Iterations",
        "values": [3000, 3250, 3500, 3750, 4000, 4250, 4500, 4750, 5000, 5250, 5500, 5750, 6000, 6250, 6500, 6750, 7000, 7250, 7500, 7750, 8000],
        "format": "d",
        "labelExpr": "datum.value % 500 == 0 ? datum.label : ''",
        "labelOverlap": false,
        "labelFlush": false,
        "grid": true,
        "gridColor": {"condition": {"test": "datum.value % 500 == 0", "value": "#8c8c8c"}, "value": "#d6d6d6"},
        "tickColor": {"condition": {"test": "datum.value % 500 == 0", "value": "#555555"}, "value": "#bbbbbb"},
        "tickSize": 5,
        "domainColor": "#555555",
        "labelFont": "Liberation Sans",
        "labelFontSize": 12,
        "labelColor": "#000000",
        "labelPadding": 8,
        "titleFont": "Liberation Sans",
        "titleFontSize": 19,
        "titleFontWeight": "normal",
        "titleColor": "#000000",
        "titlePadding": 9
      }
    },
    "y": {
      "field": "v",
      "type": "quantitative",
      "scale": {"type": "log", "domain": [1e-8, 1e-5], "nice": false},
      "axis": {
        "title": null,
        "values": [1e-8, 3.25e-8, 5.55e-8, 7.9e-8, 1e-7, 3.25e-7, 5.55e-7, 7.9e-7, 1e-6, 3.25e-6, 5.55e-6, 7.9e-6, 1e-5],
        "labelExpr": "abs(log(datum.value)/LN10 - round(log(datum.value)/LN10)) < 0.001 ? '1e-0' + (-round(log(datum.value)/LN10)) : ''",
        "labelOverlap": false,
        "labelFlush": false,
        "grid": true,
        "gridColor": {"condition": {"test": "abs(log(datum.value)/LN10 - round(log(datum.value)/LN10)) < 0.001", "value": "#8c8c8c"}, "value": "#d6d6d6"},
        "tickColor": {"condition": {"test": "abs(log(datum.value)/LN10 - round(log(datum.value)/LN10)) < 0.001", "value": "#555555"}, "value": "#bbbbbb"},
        "tickSize": 5,
        "domainColor": "#555555",
        "labelFont": "Liberation Sans",
        "labelFontSize": 12,
        "labelColor": "#000000",
        "labelPadding": 8
      }
    },
    "color": {
      "field": "s",
      "type": "nominal",
      "scale": {
        "domain": ["continuity", "x-velocity", "y-velocity", "z-velocity", "k", "epsilon"],
        "range": ["#000000", "#ff0000", "#00ff00", "#0000cd", "#00ffff", "#ff008c"]
      },
      "legend": {
        "title": "Residuals",
        "orient": "none",
        "legendX": -214,
        "legendY": -43,
        "direction": "vertical",
        "titleAnchor": "middle",
        "titleFont": "Liberation Sans",
        "titleFontSize": 13,
        "titleFontWeight": "normal",
        "titleColor": "#000000",
        "titlePadding": 0,
        "labelFont": "Liberation Sans",
        "labelFontSize": 13,
        "labelColor": "#000000",
        "labelExpr": "datum.label + '          \u200b'",
        "symbolType": "M-1,0H3",
        "symbolSize": 121,
        "symbolStrokeWidth": 1,
        "labelOffset": 10,
        "rowPadding": 0.2,
        "padding": 4,
        "strokeColor": "#7f7f7f",
        "fillColor": "#ffffff"
      }
    }
  }
}
